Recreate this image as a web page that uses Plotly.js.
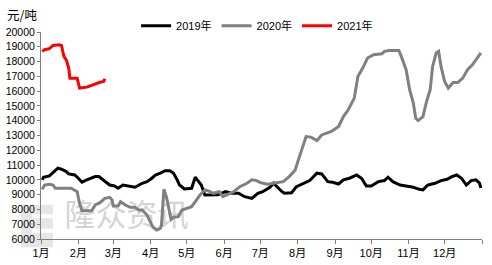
<!DOCTYPE html>
<html>
<head>
<meta charset="utf-8">
<script src="https://cdn.plot.ly/plotly-3.0.1.min.js"></script>
<style>html,body{margin:0;padding:0;background:#fff;}#chart{width:492px;height:265px;}</style>
</head>
<body>
<div id="chart"></div>
<script>
// day of year (0 = Jan 1) and price, 元/吨
const days2019 = [1,2,7,10,14,17,21,23,28,31,34,38,45,48,52,57,61,64,68,74,78,84,88,92,95,99,103,107,110,113,115,119,125,128,131,133,136,140,147,153,158,164,169,175,180,184,187,190,193,196,200,202,208,212,218,223,229,233,238,242,247,251,256,262,266,270,274,280,285,288,292,298,303,309,314,317,321,327,332,337,341,345,349,353,357,361,364,365];
const vals2019 = [10000,10180,10270,10490,10790,10720,10560,10400,10330,10110,9840,10000,10220,10220,9950,9650,9590,9430,9650,9590,9500,9770,9880,10110,10330,10450,10620,10620,10450,10000,9650,9380,9430,10180,9810,9650,8980,9000,9000,9200,9090,9090,8860,8750,9090,9200,9360,9500,9770,9500,9200,9090,9130,9540,9770,9950,10450,10400,9880,9840,9720,10000,10110,10330,10110,9590,9590,9880,9950,10180,9880,9650,9590,9500,9360,9320,9650,9770,9950,10040,10220,10330,10110,9650,9950,10000,9770,9450];

const days2020 = [1,3,7,10,12,25,30,32,34,42,45,49,53,57,59,60,64,66,70,74,78,81,84,88,90,93,96,99,100,101,102,104,106,108,110,114,117,121,125,128,129,132,136,139,143,148,151,154,160,165,171,175,179,182,184,188,193,201,206,211,213,215,219,220,224,229,233,237,241,247,251,255,260,263,267,271,276,283,285,289,297,299,303,306,309,311,313,317,320,323,325,328,330,332,335,338,342,346,350,354,358,362,365];
const vals2020 = [9360,9650,9700,9650,9430,9430,9200,8410,7910,7910,8300,8460,8750,8820,8640,8230,8230,8520,8300,8140,8140,7960,7960,7620,7280,6790,6610,6720,6940,7960,9360,8860,8000,7330,7470,7510,7960,8080,8190,8520,8640,8980,9320,9250,9090,9200,8860,8980,9200,9540,9770,10000,9950,9810,9770,9700,9770,9880,10220,10670,11200,11680,12700,12930,12890,12660,13040,13160,13270,13610,14280,14740,15530,16990,17560,18240,18460,18530,18690,18750,18750,18350,17450,16090,15190,14170,14010,14280,15300,16090,17670,18580,18690,17670,16650,16210,16590,16590,16880,17450,17780,18240,18580];

const days2021 = [1,3,7,10,15,17,19,21,23,24,30,31,32,38,43,46,49,52,53];
const vals2021 = [18690,18800,18870,19090,19140,19090,18350,18120,17560,16880,16880,16590,16210,16270,16430,16540,16600,16650,16840];

const monthStarts = [0,31,60,91,121,152,182,213,244,274,305,335,366];
const monthLabels = ['1月','2月','3月','4月','5月','6月','7月','8月','9月','10月','11月','12月',''];

const seriesNames = ['2019年','2020年','2021年'];
const unitLabel = '元/吨';
const watermark = ['隆众资讯','WWW.OILCHEM.NET'];

const FONT = '"Liberation Sans", Arial, "Noto Sans CJK SC", sans-serif';

const traces = [
  {x:[71], y:[7420], mode:'text', text:[watermark[0]], textfont:{size:31, color:'#d4d4d4', family:'"Noto Sans CJK SC", sans-serif'}, showlegend:false, hoverinfo:'skip', cliponaxis:false},
  {x:[73], y:[5700], mode:'text', text:[watermark[1]], textfont:{size:9, color:'#cccccc', family:FONT}, showlegend:false, hoverinfo:'skip', cliponaxis:false},
  {x:days2019, y:vals2019, name:seriesNames[0], mode:'lines', line:{color:'#000000', width:3}},
  {x:days2020, y:vals2020, name:seriesNames[1], mode:'lines', line:{color:'#808080', width:3}},
  {x:days2021, y:vals2021, name:seriesNames[2], mode:'lines', line:{color:'#ff0000', width:3}}
];

const layout = {
  width:492, height:265,
  margin:{l:41, r:10, t:32, b:26},
  paper_bgcolor:'#ffffff', plot_bgcolor:'#ffffff',
  font:{family:FONT, size:11, color:'#000'},
  showlegend:true,
  legend:{orientation:'h', x:0.49, xanchor:'center', y:1.03, yanchor:'middle', font:{size:11, family:FONT}, bgcolor:'rgba(0,0,0,0)', traceorder:'normal'},
  xaxis:{range:[0,366], tickmode:'array', tickvals:monthStarts, ticktext:monthLabels, showgrid:false, zeroline:false,
         showline:true, linecolor:'#808080', linewidth:1, ticks:'outside', ticklen:4, tickcolor:'#808080',
         tickfont:{size:11, family:FONT}, fixedrange:true},
  yaxis:{range:[6000,20000], dtick:1000, tick0:6000, tickformat:'d', showgrid:false, zeroline:false,
         showline:true, linecolor:'#808080', linewidth:1, ticks:'outside', ticklen:3, tickcolor:'#808080',
         tickfont:{size:10.5, family:FONT}, fixedrange:true},
  shapes:[
    {type:'rect', xref:'paper', yref:'paper', x0:-0.045, x1:0.027, y0:-0.04, y1:0.165, fillcolor:'#e6e6e6', line:{width:0}, layer:'below'},
    {type:'rect', xref:'paper', yref:'paper', x0:-0.02, x1:0.027, y0:0.03, y1:0.05, fillcolor:'#ffffff', line:{width:0}, layer:'below'},
    {type:'rect', xref:'paper', yref:'paper', x0:-0.02, x1:0.027, y0:0.1, y1:0.12, fillcolor:'#ffffff', line:{width:0}, layer:'below'}
  ],
  annotations:[
    {text:unitLabel, xref:'paper', yref:'paper', x:-0.082, xanchor:'left', y:1.084, yanchor:'middle', showarrow:false, font:{size:12.5, family:'"Noto Sans CJK SC", sans-serif', color:'#000'}}
  ]
};

Plotly.newPlot('chart', traces, layout, {displayModeBar:false, staticPlot:true});
</script>
</body>
</html>
